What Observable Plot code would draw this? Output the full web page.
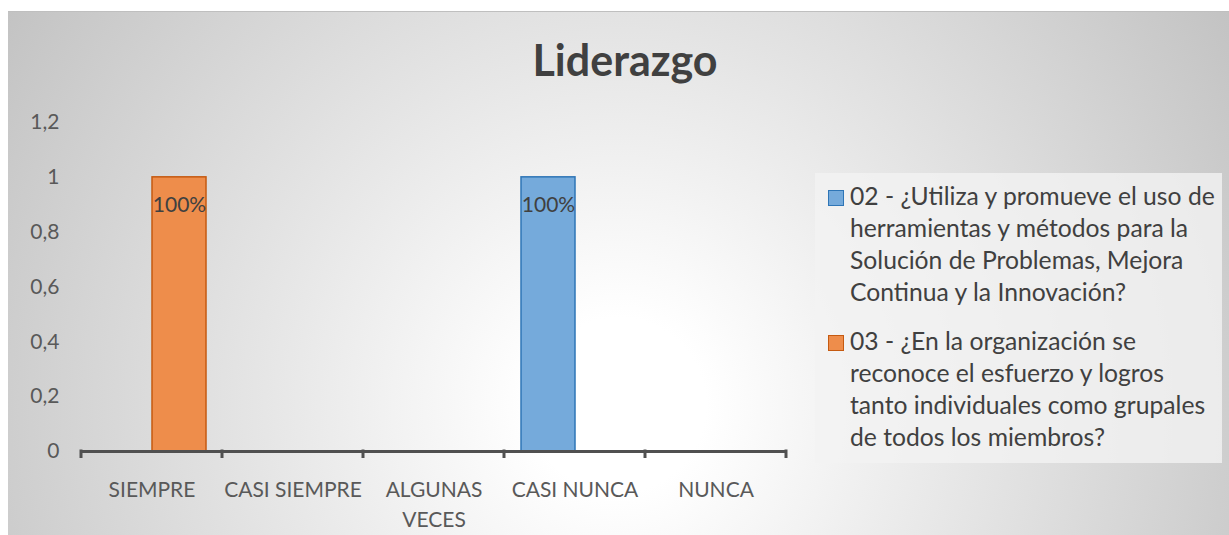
<!DOCTYPE html>
<html>
<head>
<meta charset="utf-8">
<script src="https://cdn.jsdelivr.net/npm/d3@7"></script>
<script src="https://cdn.jsdelivr.net/npm/@observablehq/plot@0.6"></script>
<style>
  html, body { margin: 0; padding: 0; background: #fff; }
  #root { position: relative; width: 1229px; height: 535px; overflow: hidden; background: #fff; font-family: Lato, "Open Sans", sans-serif; }
  #bg { position: absolute; left: 8px; top: 11px; width: 1221px; height: 524px; border-top: 1px solid #bfbfbf;
        background: radial-gradient(circle farthest-corner at 50% 75%, #ffffff 0%, #ffffff 12%, #c3c3c3 100%); }
  #chart { position: absolute; left: 0; top: 0; }
  #title { position: absolute; left: 425px; width: 400px; top: 38px; text-align: center; font-weight: 700; font-size: 43px; line-height: 43px; color: #404040; }
  #legend { position: absolute; left: 815px; top: 173px; width: 407px; height: 290px; background: rgba(242,242,242,0.8); }
  .item { position: absolute; left: 13px; display: flex; align-items: flex-start; }
  .sw { width: 14px; height: 14px; margin-top: 10px; margin-right: 6px; border: 1px solid; flex: none; }
  .lt { white-space: pre-line; font-size: 24.7px; line-height: 32px; color: #404040; }
</style>
</head>
<body>
<div id="root">
  <div id="bg"></div>
  <div id="chart"></div>
  <div id="title"></div>
  <div id="legend"></div>
</div>
<script>
const titleText = "Liderazgo";
const categories = ["SIEMPRE", "CASI SIEMPRE", "ALGUNAS VECES", "CASI NUNCA", "NUNCA"];
const xTickLabels = ["SIEMPRE", "CASI SIEMPRE", "ALGUNAS\nVECES", "CASI NUNCA", "NUNCA"];
const seriesKeys = ["02", "03"];
const seriesNames = [
  "02 - ¿Utiliza y promueve el uso de\nherramientas y métodos para la\nSolución de Problemas, Mejora\nContinua y la Innovación?",
  "03 - ¿En la organización se\nreconoce el esfuerzo y logros\ntanto individuales como grupales\nde todos los miembros?"
];
const values02 = [0, 0, 0, 1, 0];
const values03 = [1, 0, 0, 0, 0];
const yTicks = [0, 0.2, 0.4, 0.6, 0.8, 1, 1.2];
const yTickLabels = ["0", "0,2", "0,4", "0,6", "0,8", "1", "1,2"];
const fills = ["#75AADB", "#EE8D4B"];
const strokes = ["#2E75B6", "#C55A11"];

const seriesValues = [values02, values03];
const table = [];
categories.forEach((c, i) => {
  seriesKeys.forEach((s, j) => table.push({category: c, series: s, value: seriesValues[j][i]}));
});

document.getElementById("title").textContent = titleText;

const barMarks = seriesKeys.map((s, j) =>
  Plot.barY(table.filter(d => d.series === s), {
    fx: "category", x: "series", y: "value",
    fill: fills[j], stroke: strokes[j], strokeWidth: 1.5
  })
);

const plot = Plot.plot({
  width: 800,
  height: 535,
  marginLeft: 79,
  marginRight: 13,
  marginTop: 122,
  marginBottom: 84,
  style: {background: "transparent", fontFamily: "Lato, 'Open Sans', sans-serif", fontSize: "21px", color: "#595959", overflow: "visible"},
  fx: {domain: categories, padding: 0, axis: null, label: null},
  x: {domain: seriesKeys, paddingInner: 0, paddingOuter: 0.3, axis: null},
  y: {domain: [0, 1.2], ticks: yTicks, tickFormat: d => yTickLabels[yTicks.indexOf(d)], tickSize: 0, tickPadding: 22, label: null},
  marks: [
    ...barMarks,
    Plot.ruleY([0], {stroke: "#505050", strokeWidth: 3}),
    Plot.text(table.filter(d => d.value > 0), {
      fx: "category", x: "series", y: "value",
      text: d => d3.format(".0%")(d.value),
      dy: 28, fill: "#404040", fontSize: 21
    }),
    Plot.text(categories, {
      fx: d => d, text: (d, i) => xTickLabels[i],
      frameAnchor: "bottom", lineAnchor: "top", dy: 24, lineHeight: 1.43,
      fill: "#595959", fontSize: 21
    })
  ]
});

// category boundary ticks from Plot's fx band scale
const fxs = plot.scale("fx");
const ys = plot.scale("y");
const y0 = ys.apply(0);
const bounds = categories.map(c => fxs.apply(c));
bounds.push(fxs.apply(categories[categories.length - 1]) + fxs.bandwidth);
const g = d3.select(plot).append("g").attr("stroke", "#505050").attr("stroke-width", 3);
bounds.forEach(b => g.append("line").attr("x1", b).attr("x2", b).attr("y1", y0 - 1.5).attr("y2", y0 + 7));

document.getElementById("chart").appendChild(plot);

// legend
const legend = document.getElementById("legend");
const tops = [7, 152];
seriesKeys.forEach((s, j) => {
  const item = document.createElement("div");
  item.className = "item";
  item.style.top = tops[j] + "px";
  const sw = document.createElement("div");
  sw.className = "sw";
  sw.style.background = fills[j];
  sw.style.borderColor = strokes[j];
  const lt = document.createElement("div");
  lt.className = "lt";
  lt.textContent = seriesNames[j];
  item.appendChild(sw);
  item.appendChild(lt);
  legend.appendChild(item);
});
</script>
</body>
</html>
